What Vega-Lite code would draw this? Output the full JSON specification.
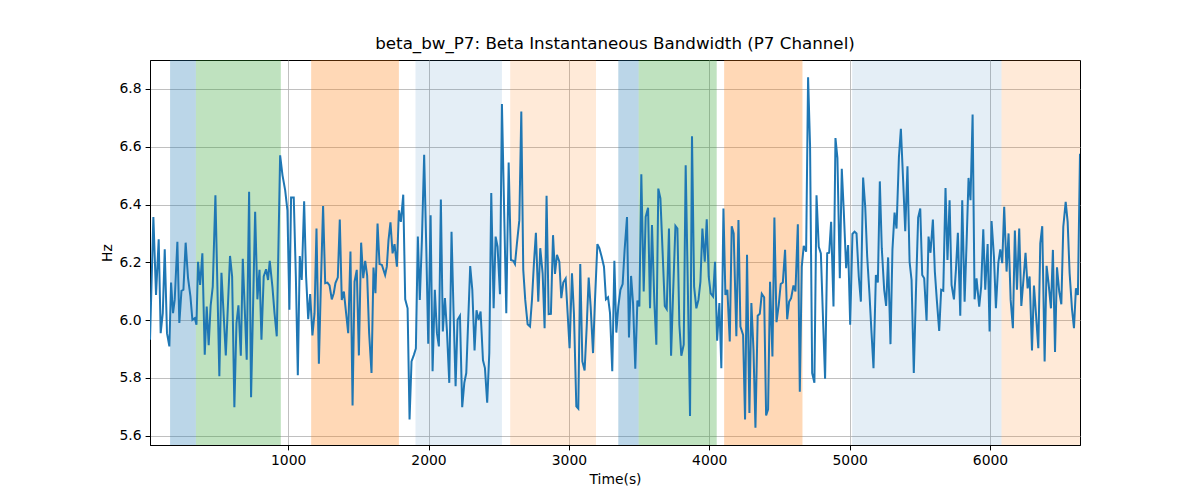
{
  "$schema": "https://vega.github.io/schema/vega-lite/v6.json",
  "width": 930,
  "height": 385,
  "autosize": {"type": "none"},
  "padding": {"left": 150, "top": 60, "right": 120, "bottom": 55},
  "background": "white",
  "title": {"text": "beta_bw_P7: Beta Instantaneous Bandwidth (P7 Channel)", "fontSize": 16.7, "font": "DejaVu Sans", "fontWeight": "normal", "color": "black", "offset": 7},
  "config": {
    "font": "DejaVu Sans",
    "view": {"stroke": "black", "strokeWidth": 1},
    "axis": {"labelFontSize": 13.9, "titleFontSize": 13.9, "labelColor": "black", "titleColor": "black", "domainColor": "black", "tickColor": "black", "tickSize": 4.9, "gridColor": "#b0b0b0", "gridWidth": 0.8, "labelPadding": 4, "titleFontWeight": "normal", "titlePadding": 5, "labelFont": "DejaVu Sans", "titleFont": "DejaVu Sans"}
  },
  "datasets": {
    "bands": [
      {"start": 159, "end": 343, "kind": "s1"},
      {"start": 343, "end": 948, "kind": "s2"},
      {"start": 1164, "end": 1789, "kind": "s3"},
      {"start": 1907, "end": 2523, "kind": "s4"},
      {"start": 2582, "end": 3193, "kind": "s5"},
      {"start": 3352, "end": 3497, "kind": "s1"},
      {"start": 3497, "end": 4053, "kind": "s2"},
      {"start": 4106, "end": 4664, "kind": "s3"},
      {"start": 5018, "end": 6082, "kind": "s4"},
      {"start": 6082, "end": 6641, "kind": "s5"}
    ],
    "series": [
      {"t": 16, "v": 5.932}, {"t": 40, "v": 6.357}, {"t": 59, "v": 6.087}, {"t": 78, "v": 6.28}, {"t": 92, "v": 5.955}, {"t": 107, "v": 6.024}, {"t": 121, "v": 6.245}, {"t": 137, "v": 5.955}, {"t": 154, "v": 5.909}, {"t": 166, "v": 6.13}, {"t": 180, "v": 6.024}, {"t": 192, "v": 6.07}, {"t": 211, "v": 6.271}, {"t": 225, "v": 5.99}, {"t": 240, "v": 6.101}, {"t": 254, "v": 6.105}, {"t": 270, "v": 6.268}, {"t": 287, "v": 6.145}, {"t": 304, "v": 6.082}, {"t": 318, "v": 6.001}, {"t": 335, "v": 6.007}, {"t": 347, "v": 5.984}, {"t": 358, "v": 6.202}, {"t": 373, "v": 6.122}, {"t": 389, "v": 6.231}, {"t": 406, "v": 5.88}, {"t": 420, "v": 6.047}, {"t": 434, "v": 5.913}, {"t": 448, "v": 6.05}, {"t": 463, "v": 6.116}, {"t": 482, "v": 6.432}, {"t": 510, "v": 5.806}, {"t": 525, "v": 6.164}, {"t": 556, "v": 5.878}, {"t": 586, "v": 6.222}, {"t": 601, "v": 6.151}, {"t": 617, "v": 5.699}, {"t": 632, "v": 5.99}, {"t": 646, "v": 6.051}, {"t": 663, "v": 5.877}, {"t": 677, "v": 6.212}, {"t": 705, "v": 5.863}, {"t": 722, "v": 6.444}, {"t": 736, "v": 5.733}, {"t": 765, "v": 6.375}, {"t": 781, "v": 6.072}, {"t": 796, "v": 6.174}, {"t": 810, "v": 5.932}, {"t": 826, "v": 6.151}, {"t": 843, "v": 6.176}, {"t": 857, "v": 6.139},
      {"t": 869, "v": 6.205}, {"t": 888, "v": 6.116}, {"t": 903, "v": 6.024}, {"t": 919, "v": 5.944}, {"t": 943, "v": 6.57}, {"t": 960, "v": 6.501}, {"t": 979, "v": 6.449}, {"t": 995, "v": 6.38}, {"t": 1009, "v": 6.036}, {"t": 1021, "v": 6.424}, {"t": 1040, "v": 6.424}, {"t": 1055, "v": 6.151}, {"t": 1069, "v": 5.809}, {"t": 1083, "v": 6.222}, {"t": 1097, "v": 6.139}, {"t": 1114, "v": 6.411}, {"t": 1128, "v": 6.151}, {"t": 1143, "v": 6.003}, {"t": 1157, "v": 6.09}, {"t": 1173, "v": 5.947}, {"t": 1188, "v": 6.024}, {"t": 1202, "v": 6.317}, {"t": 1219, "v": 5.849}, {"t": 1233, "v": 6.116}, {"t": 1249, "v": 6.395}, {"t": 1264, "v": 6.128}, {"t": 1280, "v": 6.13}, {"t": 1295, "v": 6.12}, {"t": 1311, "v": 6.072}, {"t": 1325, "v": 6.093}, {"t": 1337, "v": 6.128}, {"t": 1354, "v": 6.148}, {"t": 1368, "v": 6.348}, {"t": 1382, "v": 6.07}, {"t": 1397, "v": 6.099}, {"t": 1413, "v": 6.024}, {"t": 1428, "v": 5.955}, {"t": 1444, "v": 6.237}, {"t": 1459, "v": 5.705}, {"t": 1473, "v": 6.133}, {"t": 1489, "v": 6.174}, {"t": 1504, "v": 5.878}, {"t": 1520, "v": 6.268}, {"t": 1535, "v": 6.145}, {"t": 1549, "v": 6.205}, {"t": 1563, "v": 6.153}, {"t": 1577, "v": 5.955}, {"t": 1594, "v": 5.817}, {"t": 1608, "v": 6.182}, {"t": 1622, "v": 6.093}, {"t": 1637, "v": 6.334}, {"t": 1651, "v": 6.194}, {"t": 1668, "v": 6.191}, {"t": 1691, "v": 6.156},
      {"t": 1703, "v": 6.185}, {"t": 1715, "v": 6.277}, {"t": 1729, "v": 6.338}, {"t": 1744, "v": 6.231}, {"t": 1758, "v": 6.263}, {"t": 1775, "v": 6.185}, {"t": 1789, "v": 6.38}, {"t": 1803, "v": 6.34}, {"t": 1820, "v": 6.434}, {"t": 1834, "v": 6.072}, {"t": 1851, "v": 6.041}, {"t": 1865, "v": 5.656}, {"t": 1879, "v": 5.857}, {"t": 1896, "v": 5.88}, {"t": 1910, "v": 5.902}, {"t": 1924, "v": 6.289}, {"t": 1938, "v": 6.07}, {"t": 1953, "v": 6.277}, {"t": 1969, "v": 6.572}, {"t": 1984, "v": 6.254}, {"t": 1998, "v": 5.918}, {"t": 2015, "v": 6.363}, {"t": 2029, "v": 5.823}, {"t": 2045, "v": 6.105}, {"t": 2060, "v": 5.955}, {"t": 2074, "v": 5.909}, {"t": 2088, "v": 6.417}, {"t": 2102, "v": 5.961}, {"t": 2117, "v": 6.076}, {"t": 2131, "v": 5.966}, {"t": 2148, "v": 5.783}, {"t": 2164, "v": 6.306}, {"t": 2178, "v": 6.036}, {"t": 2193, "v": 5.771}, {"t": 2207, "v": 6.001}, {"t": 2224, "v": 6.015}, {"t": 2240, "v": 5.699}, {"t": 2255, "v": 5.783}, {"t": 2269, "v": 5.817}, {"t": 2283, "v": 6.001}, {"t": 2297, "v": 6.187}, {"t": 2312, "v": 6.105}, {"t": 2328, "v": 5.895}, {"t": 2342, "v": 6.034}, {"t": 2357, "v": 6.001}, {"t": 2371, "v": 6.03}, {"t": 2388, "v": 5.861}, {"t": 2402, "v": 5.834}, {"t": 2418, "v": 5.714}, {"t": 2433, "v": 5.886}, {"t": 2447, "v": 6.44}, {"t": 2464, "v": 6.041}, {"t": 2478, "v": 6.289}, {"t": 2492, "v": 6.254}, {"t": 2509, "v": 6.09}, {"t": 2523, "v": 6.748},
      {"t": 2554, "v": 6.024}, {"t": 2571, "v": 6.545}, {"t": 2587, "v": 6.208}, {"t": 2604, "v": 6.205}, {"t": 2616, "v": 6.194}, {"t": 2630, "v": 6.266}, {"t": 2647, "v": 6.346}, {"t": 2661, "v": 6.722}, {"t": 2675, "v": 6.174}, {"t": 2689, "v": 6.07}, {"t": 2706, "v": 5.986}, {"t": 2723, "v": 5.978}, {"t": 2737, "v": 6.07}, {"t": 2751, "v": 6.197}, {"t": 2765, "v": 6.302}, {"t": 2782, "v": 6.064}, {"t": 2796, "v": 6.249}, {"t": 2813, "v": 6.162}, {"t": 2827, "v": 5.972}, {"t": 2841, "v": 6.43}, {"t": 2856, "v": 6.021}, {"t": 2872, "v": 6.022}, {"t": 2887, "v": 6.294}, {"t": 2901, "v": 6.16}, {"t": 2915, "v": 6.226}, {"t": 2932, "v": 6.202}, {"t": 2946, "v": 6.076}, {"t": 2960, "v": 6.13}, {"t": 2977, "v": 6.144}, {"t": 2991, "v": 6.024}, {"t": 3005, "v": 5.903}, {"t": 3022, "v": 6.162}, {"t": 3036, "v": 6.024}, {"t": 3053, "v": 5.702}, {"t": 3067, "v": 5.694}, {"t": 3081, "v": 6.194}, {"t": 3096, "v": 5.857}, {"t": 3112, "v": 5.826}, {"t": 3127, "v": 5.978}, {"t": 3141, "v": 6.147}, {"t": 3155, "v": 6.047}, {"t": 3172, "v": 5.886}, {"t": 3186, "v": 6.07}, {"t": 3203, "v": 6.263}, {"t": 3217, "v": 6.249}, {"t": 3233, "v": 6.22}, {"t": 3250, "v": 6.185}, {"t": 3264, "v": 6.072}, {"t": 3279, "v": 6.079}, {"t": 3293, "v": 6.024}, {"t": 3309, "v": 5.823}, {"t": 3324, "v": 6.205}, {"t": 3338, "v": 5.957}, {"t": 3352, "v": 6.047},
      {"t": 3367, "v": 6.105}, {"t": 3383, "v": 6.125}, {"t": 3397, "v": 6.243}, {"t": 3414, "v": 6.357}, {"t": 3428, "v": 5.94}, {"t": 3443, "v": 6.153}, {"t": 3457, "v": 6.059}, {"t": 3473, "v": 5.832}, {"t": 3488, "v": 6.068}, {"t": 3502, "v": 6.047}, {"t": 3516, "v": 6.505}, {"t": 3533, "v": 6.099}, {"t": 3547, "v": 6.357}, {"t": 3564, "v": 6.389}, {"t": 3578, "v": 6.041}, {"t": 3592, "v": 6.329}, {"t": 3609, "v": 6.059}, {"t": 3623, "v": 5.915}, {"t": 3637, "v": 6.455}, {"t": 3652, "v": 6.421}, {"t": 3668, "v": 6.231}, {"t": 3683, "v": 6.049}, {"t": 3697, "v": 6.038}, {"t": 3713, "v": 6.317}, {"t": 3728, "v": 5.877}, {"t": 3742, "v": 6.087}, {"t": 3759, "v": 6.326}, {"t": 3773, "v": 6.317}, {"t": 3787, "v": 5.984}, {"t": 3801, "v": 5.877}, {"t": 3818, "v": 5.915}, {"t": 3832, "v": 6.536}, {"t": 3846, "v": 6.151}, {"t": 3863, "v": 5.668}, {"t": 3877, "v": 6.636}, {"t": 3892, "v": 6.116}, {"t": 3908, "v": 6.041}, {"t": 3923, "v": 6.07}, {"t": 3937, "v": 6.133}, {"t": 3951, "v": 6.317}, {"t": 3968, "v": 6.202}, {"t": 3982, "v": 6.349}, {"t": 3996, "v": 6.151}, {"t": 4010, "v": 6.093}, {"t": 4027, "v": 6.082}, {"t": 4041, "v": 6.202}, {"t": 4056, "v": 5.929}, {"t": 4072, "v": 6.059}, {"t": 4086, "v": 5.834}, {"t": 4101, "v": 6.386}, {"t": 4115, "v": 6.087}, {"t": 4129, "v": 6.105}, {"t": 4146, "v": 5.926}, {"t": 4160, "v": 6.325}, {"t": 4174, "v": 6.3}, {"t": 4193, "v": 5.944},
      {"t": 4208, "v": 6.346}, {"t": 4222, "v": 5.978}, {"t": 4241, "v": 5.949}, {"t": 4255, "v": 5.656}, {"t": 4269, "v": 6.226}, {"t": 4286, "v": 5.679}, {"t": 4300, "v": 6.059}, {"t": 4315, "v": 5.898}, {"t": 4329, "v": 5.628}, {"t": 4345, "v": 6.015}, {"t": 4360, "v": 6.022}, {"t": 4374, "v": 6.091}, {"t": 4391, "v": 6.079}, {"t": 4405, "v": 5.67}, {"t": 4419, "v": 5.691}, {"t": 4433, "v": 6.133}, {"t": 4450, "v": 5.874}, {"t": 4464, "v": 6.355}, {"t": 4479, "v": 5.993}, {"t": 4495, "v": 6.053}, {"t": 4509, "v": 6.125}, {"t": 4524, "v": 6.13}, {"t": 4540, "v": 6.243}, {"t": 4555, "v": 6.003}, {"t": 4569, "v": 6.064}, {"t": 4583, "v": 6.076}, {"t": 4600, "v": 6.12}, {"t": 4614, "v": 6.099}, {"t": 4631, "v": 6.332}, {"t": 4645, "v": 5.752}, {"t": 4659, "v": 6.185}, {"t": 4673, "v": 6.257}, {"t": 4690, "v": 6.237}, {"t": 4704, "v": 6.84}, {"t": 4718, "v": 6.605}, {"t": 4733, "v": 5.817}, {"t": 4749, "v": 5.783}, {"t": 4764, "v": 6.432}, {"t": 4780, "v": 6.254}, {"t": 4795, "v": 6.231}, {"t": 4809, "v": 6.024}, {"t": 4825, "v": 5.797}, {"t": 4840, "v": 6.231}, {"t": 4854, "v": 6.233}, {"t": 4868, "v": 6.34}, {"t": 4885, "v": 6.047}, {"t": 4899, "v": 6.63}, {"t": 4913, "v": 6.561}, {"t": 4930, "v": 6.145}, {"t": 4944, "v": 6.524}, {"t": 4958, "v": 6.38}, {"t": 4975, "v": 6.18}, {"t": 4989, "v": 6.26}, {"t": 5004, "v": 5.984}, {"t": 5020, "v": 6.298},
      {"t": 5035, "v": 6.306}, {"t": 5049, "v": 6.3}, {"t": 5065, "v": 6.151}, {"t": 5080, "v": 6.064}, {"t": 5096, "v": 6.493}, {"t": 5111, "v": 6.392}, {"t": 5125, "v": 6.22}, {"t": 5141, "v": 6.093}, {"t": 5156, "v": 5.955}, {"t": 5170, "v": 5.834}, {"t": 5187, "v": 6.156}, {"t": 5201, "v": 6.13}, {"t": 5215, "v": 6.48}, {"t": 5229, "v": 6.249}, {"t": 5246, "v": 6.105}, {"t": 5260, "v": 6.049}, {"t": 5274, "v": 6.217}, {"t": 5291, "v": 5.917}, {"t": 5305, "v": 6.245}, {"t": 5320, "v": 6.372}, {"t": 5334, "v": 6.317}, {"t": 5351, "v": 6.564}, {"t": 5365, "v": 6.662}, {"t": 5381, "v": 6.484}, {"t": 5396, "v": 6.308}, {"t": 5412, "v": 6.532}, {"t": 5427, "v": 6.202}, {"t": 5441, "v": 6.139}, {"t": 5457, "v": 5.817}, {"t": 5472, "v": 6.093}, {"t": 5488, "v": 6.355}, {"t": 5503, "v": 6.386}, {"t": 5517, "v": 6.156}, {"t": 5531, "v": 6.145}, {"t": 5548, "v": 5.998}, {"t": 5562, "v": 6.289}, {"t": 5576, "v": 6.233}, {"t": 5593, "v": 6.348}, {"t": 5607, "v": 6.168}, {"t": 5621, "v": 6.07}, {"t": 5638, "v": 5.963}, {"t": 5652, "v": 6.105}, {"t": 5667, "v": 6.102}, {"t": 5683, "v": 6.457}, {"t": 5697, "v": 6.208}, {"t": 5712, "v": 6.415}, {"t": 5726, "v": 6.122}, {"t": 5743, "v": 6.072}, {"t": 5757, "v": 6.174}, {"t": 5771, "v": 6.302}, {"t": 5788, "v": 6.015}, {"t": 5802, "v": 6.415}, {"t": 5819, "v": 6.064}, {"t": 5833, "v": 6.266}, {"t": 5847, "v": 6.492}, {"t": 5861, "v": 6.415},
      {"t": 5876, "v": 6.711}, {"t": 5890, "v": 6.072}, {"t": 5904, "v": 6.145}, {"t": 5923, "v": 6.047}, {"t": 5937, "v": 6.116}, {"t": 5952, "v": 6.314}, {"t": 5966, "v": 6.105}, {"t": 5983, "v": 6.263}, {"t": 5997, "v": 5.961}, {"t": 6011, "v": 6.343}, {"t": 6028, "v": 6.22}, {"t": 6042, "v": 6.041}, {"t": 6059, "v": 6.197}, {"t": 6073, "v": 6.245}, {"t": 6087, "v": 6.197}, {"t": 6101, "v": 6.392}, {"t": 6118, "v": 6.168}, {"t": 6132, "v": 6.3}, {"t": 6147, "v": 6.07}, {"t": 6163, "v": 5.972}, {"t": 6177, "v": 6.31}, {"t": 6192, "v": 6.105}, {"t": 6208, "v": 6.317}, {"t": 6223, "v": 6.049}, {"t": 6239, "v": 6.145}, {"t": 6253, "v": 6.233}, {"t": 6268, "v": 6.11}, {"t": 6282, "v": 6.151}, {"t": 6299, "v": 5.895}, {"t": 6313, "v": 6.12}, {"t": 6327, "v": 6.024}, {"t": 6344, "v": 5.903}, {"t": 6358, "v": 6.266}, {"t": 6372, "v": 6.325}, {"t": 6389, "v": 5.857}, {"t": 6403, "v": 6.188}, {"t": 6417, "v": 6.128}, {"t": 6434, "v": 6.041}, {"t": 6448, "v": 6.243}, {"t": 6463, "v": 5.89}, {"t": 6477, "v": 6.183}, {"t": 6493, "v": 6.099}, {"t": 6508, "v": 6.055}, {"t": 6522, "v": 6.323}, {"t": 6539, "v": 6.409}, {"t": 6553, "v": 6.34}, {"t": 6567, "v": 6.162}, {"t": 6584, "v": 6.038}, {"t": 6598, "v": 5.972}, {"t": 6612, "v": 6.11}, {"t": 6626, "v": 6.087}, {"t": 6641, "v": 6.576}
    ]
  },
  "layer": [
    {
      "data": {"name": "bands"},
      "mark": {"type": "rect", "strokeWidth": 0},
      "encoding": {
        "x": {"field": "start", "type": "quantitative", "scale": {"domain": [16, 6641], "nice": false, "zero": false}, "axis": {"title": "Time(s)", "values": [1000, 2000, 3000, 4000, 5000, 6000], "format": "d", "grid": true}},
        "x2": {"field": "end"},
        "color": {"field": "kind", "type": "nominal", "scale": {"domain": ["s1", "s2", "s3", "s4", "s5"], "range": ["rgba(31,119,180,0.3)", "rgba(44,160,44,0.3)", "rgba(255,127,14,0.3)", "rgba(31,119,180,0.12)", "rgba(255,127,14,0.16)"]}, "legend": null}
      }
    },
    {
      "data": {"name": "series"},
      "mark": {"type": "line", "color": "#1f77b4", "strokeWidth": 2, "clip": true},
      "encoding": {
        "x": {"field": "t", "type": "quantitative"},
        "y": {"field": "v", "type": "quantitative", "scale": {"domain": [5.568, 6.9], "nice": false, "zero": false}, "axis": {"title": "Hz", "values": [5.6, 5.8, 6.0, 6.2, 6.4, 6.6, 6.8], "format": ".1f", "grid": true}}
      }
    }
  ]
}
